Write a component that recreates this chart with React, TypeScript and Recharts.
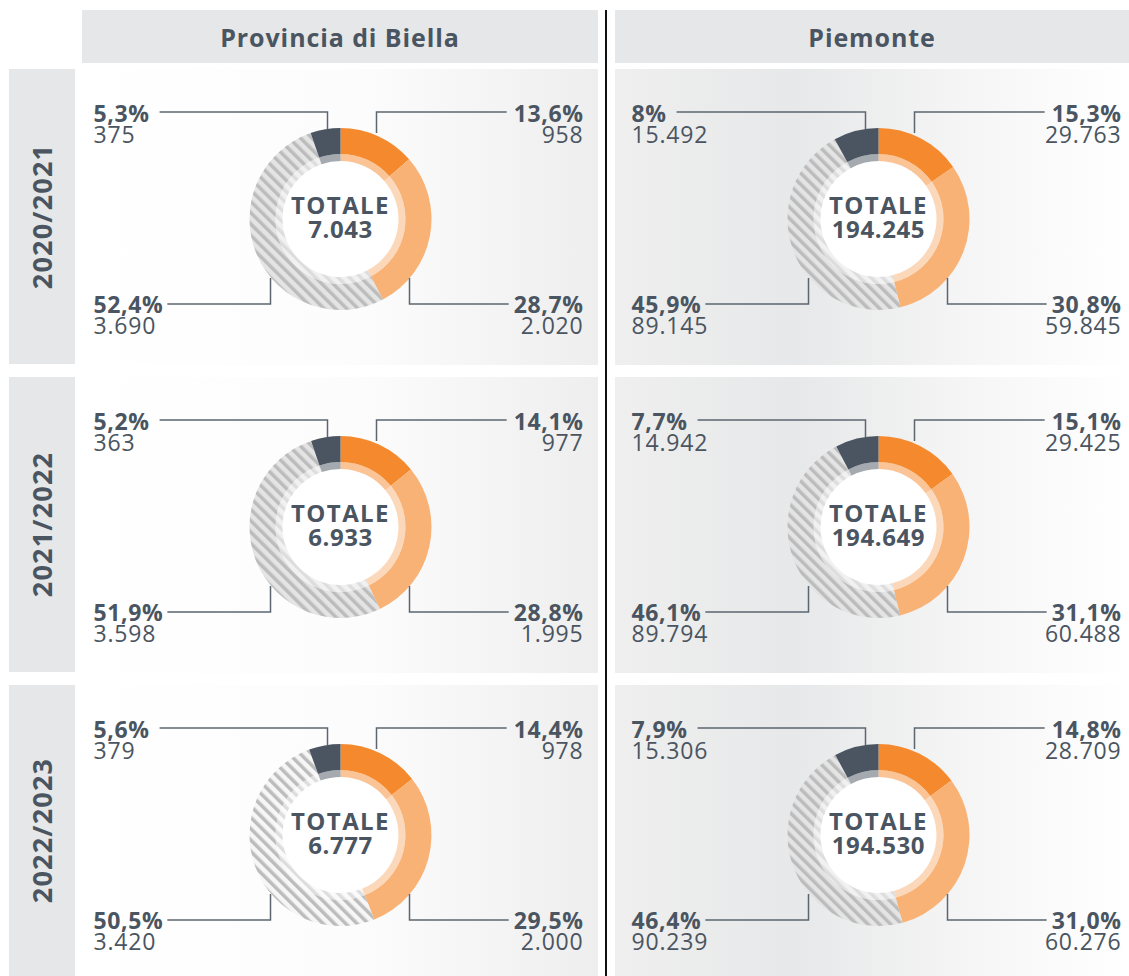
import { PieChart, Pie, Cell } from 'recharts';

// rows and columns
const years = ['2020/2021', '2021/2022', '2022/2023'];
const areas = ['Provincia di Biella', 'Piemonte'];

// slices clockwise from 12 o'clock: orange, light orange, hatched, dark
const biella2021 = [958, 2020, 3690, 375];
const biella2122 = [977, 1995, 3598, 363];
const biella2223 = [978, 2000, 3420, 379];
const piemonte2021 = [29763, 59845, 89145, 15492];
const piemonte2122 = [29425, 60488, 89794, 14942];
const piemonte2223 = [28709, 60276, 90239, 15306];

const biellaPct2021 = ['13,6%', '28,7%', '52,4%', '5,3%'];
const biellaPct2122 = ['14,1%', '28,8%', '51,9%', '5,2%'];
const biellaPct2223 = ['14,4%', '29,5%', '50,5%', '5,6%'];
const piemontePct2021 = ['15,3%', '30,8%', '45,9%', '8%'];
const piemontePct2122 = ['15,1%', '31,1%', '46,1%', '7,7%'];
const piemontePct2223 = ['14,8%', '31,0%', '46,4%', '7,9%'];

const biellaTotals = [7043, 6933, 6777];
const piemonteTotals = [194245, 194649, 194530];

const biellaValues = [biella2021, biella2122, biella2223];
const piemonteValues = [piemonte2021, piemonte2122, piemonte2223];
const biellaPcts = [biellaPct2021, biellaPct2122, biellaPct2223];
const piemontePcts = [piemontePct2021, piemontePct2122, piemontePct2223];

const DARK = '#4a5561';
const LINE = '#5b6670';
const FONT = "'Open Sans', sans-serif";

const fmt = (n: number) => String(n).replace(/\B(?=(\d{3})+(?!\d))/g, '.');

const PCT_SIZE = 23;
const PCT_SPACING = 0.6;

// rough width of bold Open Sans text
const boldWidth = (s: string) => {
  let w = 0;
  for (const ch of s) {
    if (ch === ',' || ch === '.') w += 0.29;
    else if (ch === '%') w += 0.9;
    else w += 0.572;
  }
  return w * PCT_SIZE + PCT_SPACING * s.length;
};

const makeLabel = (pcts: string[], values: number[], total: number) => (p: any) => {
  const { cx, cy, index } = p;
  const pct = pcts[index];
  const val = fmt(values[index]);
  const tw = boldWidth(pct);
  const rightX = cx + 243;
  const leftX = cx - 247;
  let pts = '';
  let tx = 0;
  let anchor: 'start' | 'end' = 'start';
  let b1 = 0;
  let b2 = 0;
  if (index === 0) {
    pts = `${cx + 36},${cy - 86} ${cx + 36},${cy - 107} ${rightX - tw - 7},${cy - 107}`;
    tx = rightX; anchor = 'end'; b1 = cy - 97; b2 = cy - 76;
  } else if (index === 1) {
    pts = `${cx + 69},${cy + 59} ${cx + 69},${cy + 85} ${rightX - tw - 5},${cy + 85}`;
    tx = rightX; anchor = 'end'; b1 = cy + 94; b2 = cy + 115;
  } else if (index === 2) {
    pts = `${cx - 70},${cy + 59} ${cx - 70},${cy + 85} ${leftX + tw + 4},${cy + 85}`;
    tx = leftX; b1 = cy + 94; b2 = cy + 115;
  } else {
    pts = `${cx - 13},${cy - 90} ${cx - 13},${cy - 107} ${leftX + tw + 10},${cy - 107}`;
    tx = leftX; b1 = cy - 97; b2 = cy - 76;
  }
  return (
    <g key={`lbl-${index}`}>
      <polyline points={pts} fill="none" stroke={LINE} strokeWidth={1.5} />
      <text x={tx} y={b1} textAnchor={anchor} fontFamily={FONT} fontWeight={700} fontSize={PCT_SIZE} letterSpacing={PCT_SPACING} fill={DARK}>
        {pct}
      </text>
      <text x={tx} y={b2} textAnchor={anchor} fontFamily={FONT} fontWeight={400} fontSize={23} letterSpacing={0.8} fill={DARK}>
        {val}
      </text>
      {index === 0 && (
        <g>
          <text x={cx} y={cy - 5} textAnchor="middle" fontFamily={FONT} fontWeight={700} fontSize={24} letterSpacing={1.4} fill={DARK}>
            TOTALE
          </text>
          <text x={cx} y={cy + 19} textAnchor="middle" fontFamily={FONT} fontWeight={700} fontSize={24} letterSpacing={0.6} fill={DARK}>
            {fmt(total)}
          </text>
        </g>
      )}
    </g>
  );
};

const Donut = ({ values, pcts, total, width, cx, id, light }: any) => {
  const data = values.map((v: number, i: number) => ({ name: `s${i}`, value: v }));
  const fills = ['#f5892d', '#f9b275', `url(#${id})`, DARK];
  return (
    <PieChart width={width} height={296} margin={{ top: 0, right: 0, bottom: 0, left: 0 }}>
      <defs>
        <pattern id={id} patternUnits="userSpaceOnUse" width={8} height={8} patternTransform="rotate(-45)">
          <rect width={8} height={8} fill={light ? '#f6f6f6' : '#e4e4e4'} />
          <rect width={3.5} height={8} fill="#bcbcbc" />
        </pattern>
      </defs>
      <Pie
        data={[{ name: 'disc', value: 1 }]}
        dataKey="value"
        cx={cx}
        cy={150}
        innerRadius={0}
        outerRadius={65}
        startAngle={90}
        endAngle={-270}
        fill="#ffffff"
        stroke="none"
        isAnimationActive={false}
      />
      <Pie
        data={data}
        dataKey="value"
        cx={cx}
        cy={150}
        innerRadius={58}
        outerRadius={65}
        startAngle={90}
        endAngle={-270}
        stroke="none"
        isAnimationActive={false}
      >
        {data.map((_: any, i: number) => (
          <Cell key={i} fill={fills[i]} fillOpacity={0.5} />
        ))}
      </Pie>
      <Pie
        data={data}
        dataKey="value"
        cx={cx}
        cy={150}
        innerRadius={65}
        outerRadius={91}
        startAngle={90}
        endAngle={-270}
        stroke="none"
        label={makeLabel(pcts, values, total)}
        labelLine={false}
        isAnimationActive={false}
      >
        {data.map((_: any, i: number) => (
          <Cell key={i} fill={fills[i]} />
        ))}
      </Pie>
    </PieChart>
  );
};

const rowTops = [69, 377, 685];

export default function App() {
  return (
    <div
      style={{
        position: 'absolute',
        left: 0,
        top: 0,
        width: 1129,
        height: 976,
        overflow: 'hidden',
        background: '#ffffff',
        fontFamily: FONT,
        color: DARK,
      }}
    >
      {/* column headers */}
      {areas.map((a, i) => (
        <div
          key={a}
          style={{
            position: 'absolute',
            left: i === 0 ? 82 : 615,
            top: 10,
            width: i === 0 ? 516 : 514,
            height: 53,
            background: '#e6e7e8',
            display: 'flex',
            alignItems: 'center',
            justifyContent: 'center',
            fontWeight: 700,
            fontSize: 25,
            letterSpacing: 0.9,
          }}
        >
          {a}
        </div>
      ))}

      {years.map((y, r) => (
        <div key={y}>
          {/* row label */}
          <div
            style={{
              position: 'absolute',
              left: 9,
              top: rowTops[r],
              width: 66,
              height: r === 2 ? 291 : 295,
              background: '#e6e7e8',
              display: 'flex',
              alignItems: 'center',
              justifyContent: 'center',
            }}
          >
            <span
              style={{
                display: 'inline-block',
                transform: 'rotate(-90deg)',
                whiteSpace: 'nowrap',
                fontWeight: 700,
                fontSize: 27,
                letterSpacing: 1.2,
              }}
            >
              {y}
            </span>
          </div>

          {/* Biella panel */}
          <div
            style={{
              position: 'absolute',
              left: 82,
              top: rowTops[r],
              width: 516,
              height: 296,
              background: 'linear-gradient(90deg, #ffffff 0%, #fcfcfc 55%, #eeeeee 100%)',
            }}
          >
            <Donut
              id={`hb${r}`}
              values={biellaValues[r]}
              pcts={biellaPcts[r]}
              total={biellaTotals[r]}
              width={516}
              cx={258.5}
              light={r === 2}
            />
          </div>

          {/* Piemonte panel */}
          <div
            style={{
              position: 'absolute',
              left: 615,
              top: rowTops[r],
              width: 514,
              height: 296,
              background: 'linear-gradient(90deg, #efefef 0%, #e7e8e9 35%, #f6f6f6 70%, #ffffff 100%)',
            }}
          >
            <Donut
              id={`hp${r}`}
              values={piemonteValues[r]}
              pcts={piemontePcts[r]}
              total={piemonteTotals[r]}
              width={514}
              cx={263.5}
            />
          </div>
        </div>
      ))}

      {/* divider */}
      <div style={{ position: 'absolute', left: 605, top: 10, width: 1.5, height: 966, background: '#111111' }} />
    </div>
  );
}
